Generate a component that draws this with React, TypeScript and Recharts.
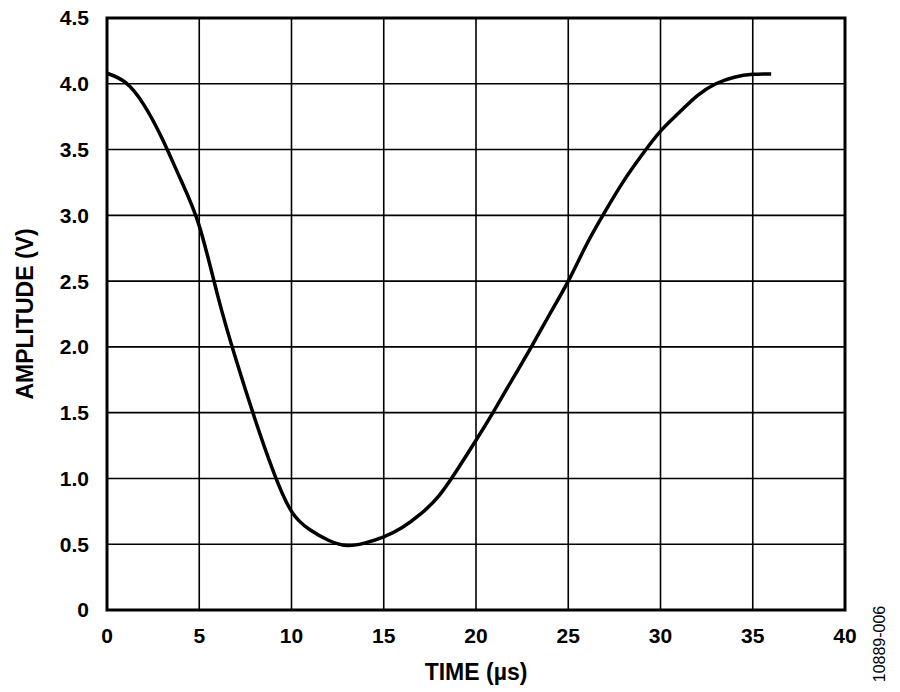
import { CartesianGrid, Label, Line, LineChart, ReferenceArea, XAxis, YAxis } from "recharts";

// time in µs and amplitude in V
const timeUs = [
  0, 1, 2, 3, 4, 5, 6, 7, 8, 9, 10, 11, 12, 13, 14, 15, 16, 17, 18,
  19, 20, 21, 22, 23, 24, 25, 26, 27, 28, 29, 30, 31, 32, 33, 34, 35, 36,
];
const amplitudeV = [
  4.08, 4.01, 3.84, 3.58, 3.27, 2.92, 2.39, 1.9, 1.46, 1.06, 0.75, 0.61, 0.53, 0.49, 0.51, 0.556, 0.627, 0.73, 0.87,
  1.07, 1.29, 1.52, 1.76, 2.0, 2.25, 2.5, 2.78, 3.03, 3.26, 3.46, 3.64, 3.78, 3.91, 4.0, 4.05, 4.072, 4.075,
];
const xTicks = [0, 5, 10, 15, 20, 25, 30, 35, 40];
const yTicks = [0, 0.5, 1.0, 1.5, 2.0, 2.5, 3.0, 3.5, 4.0, 4.5];

const data = timeUs.map((t, i) => ({ t, v: amplitudeV[i] }));

const font = "'Liberation Sans', Arial, sans-serif";
const tickStyle = { fill: "#000", fontSize: 21, fontWeight: 700, fontFamily: font };

const App = () => {
  return (
    <div style={{ position: "absolute", left: 0, top: 0, width: 900, height: 692, background: "#fff" }}>
      <LineChart
        width={900}
        height={692}
        data={data}
        margin={{ top: 18, right: 55, bottom: 42, left: 47 }}
      >
        <CartesianGrid stroke="#000" strokeWidth={1.6} strokeOpacity={1} />
        <XAxis
          type="number"
          dataKey="t"
          domain={[0, 40]}
          ticks={xTicks}
          height={40}
          axisLine={false}
          tickLine={false}
          tickSize={0}
          tickMargin={18}
          tick={tickStyle}
          interval={0}
        >
          <Label
            value="TIME (µs)"
            position="insideBottom"
            offset={-30}
            style={{ fill: "#000", fontSize: 23, fontWeight: 700, fontFamily: font }}
          />
        </XAxis>
        <YAxis
          type="number"
          domain={[0, 4.5]}
          ticks={yTicks}
          width={60}
          axisLine={false}
          tickLine={false}
          tickSize={0}
          tickMargin={18}
          tick={tickStyle}
          interval={0}
          tickFormatter={(v: number) => (v === 0 ? "0" : v.toFixed(1))}
        >
          <Label
            value="AMPLITUDE (V)"
            angle={-90}
            position="insideLeft"
            offset={-22}
            style={{ textAnchor: "middle", fill: "#000", fontSize: 23, fontWeight: 700, fontFamily: font }}
          />
        </YAxis>
        <ReferenceArea x1={0} x2={40} y1={0} y2={4.5} fill="none" stroke="#000" strokeWidth={3} ifOverflow="visible" />
        <Line
          type="natural"
          dataKey="v"
          stroke="#000"
          strokeWidth={3.5}
          dot={false}
          activeDot={false}
          isAnimationActive={false}
        />
      </LineChart>
      <div
        style={{
          position: "absolute",
          left: 880,
          top: 644,
          transform: "translate(-50%, -50%) rotate(-90deg)",
          fontFamily: font,
          fontSize: 16,
          color: "#000",
          whiteSpace: "nowrap",
        }}
      >
        10889-006
      </div>
    </div>
  );
};

export default App;
